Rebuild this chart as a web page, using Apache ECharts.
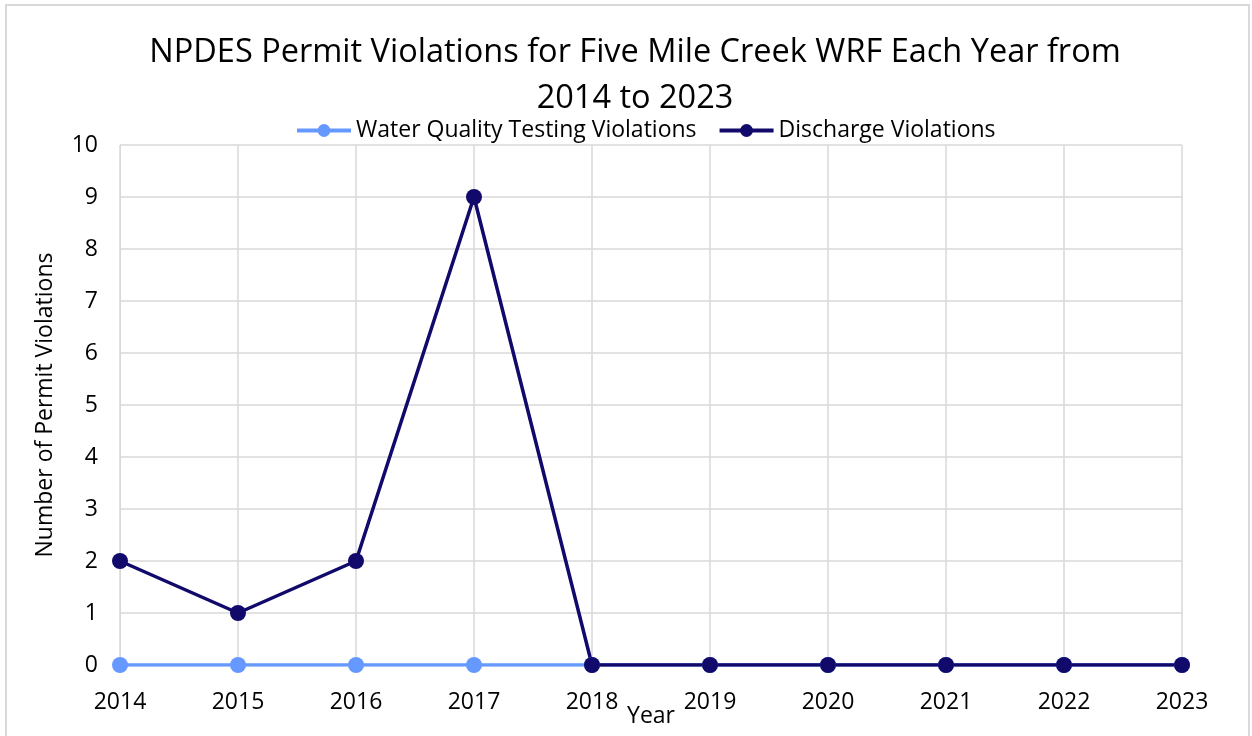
<!DOCTYPE html>
<html>
<head>
<meta charset="utf-8">
<script src="https://cdn.jsdelivr.net/npm/echarts@6/dist/echarts.min.js"></script>
<style>
  html, body { margin: 0; padding: 0; background: #fff; }
  #chart { width: 1252px; height: 736px; }
</style>
</head>
<body>
<div id="chart"></div>
<script>
// 年份与两条数据
const years = ['2014', '2015', '2016', '2017', '2018', '2019', '2020', '2021', '2022', '2023']
const waterQuality = [0, 0, 0, 0, 0, 0, 0, 0, 0, 0]
const discharge = [2, 1, 2, 9, 0, 0, 0, 0, 0, 0]

const font = '"Open Sans"'
const chart = echarts.init(document.getElementById('chart'))
chart.setOption({
  textStyle: { fontFamily: font },
  graphic: [{
    type: 'rect',
    shape: { x: 6, y: 5, width: 1243, height: 740 },
    style: { fill: 'none', stroke: '#d9d9d9', lineWidth: 2 },
    silent: true
  }],
  title: {
    text: 'NPDES Permit Violations for Five Mile Creek WRF Each Year from\n2014 to 2023',
    left: 630,
    textAlign: 'center',
    top: 25,
    textStyle: { fontSize: 32.5, fontWeight: 'normal', color: '#000', lineHeight: 46, fontFamily: font }
  },
  legend: {
    top: 114,
    left: 290,
    itemWidth: 54,
    itemHeight: 16,
    itemGap: 21,
    lineStyle: { width: 4 },
    textStyle: { fontSize: 23, color: '#000', fontFamily: font },
    data: ['Water Quality Testing Violations', 'Discharge Violations']
  },
  grid: { left: 120, right: 70, top: 145, bottom: 71, outerBoundsMode: 'none', containLabel: false },
  xAxis: {
    type: 'category',
    data: years,
    boundaryGap: false,
    name: 'Year',
    nameLocation: 'middle',
    nameGap: 40,
    nameMoveOverlap: false,
    nameTextStyle: { fontSize: 23, color: '#000', fontFamily: font },
    axisTick: { show: false },
    axisLine: { lineStyle: { color: '#d9d9d9' } },
    axisLabel: { fontSize: 23, color: '#000', margin: 26, fontFamily: font },
    splitLine: { show: true, lineStyle: { color: '#d9d9d9', width: 1.5 } }
  },
  yAxis: {
    type: 'value',
    min: 0,
    max: 10,
    interval: 1,
    name: 'Number of Permit Violations',
    nameLocation: 'middle',
    nameGap: 63,
    nameTextStyle: { fontSize: 23, color: '#000', fontFamily: font },
    axisLine: { show: true, lineStyle: { color: '#d9d9d9' } },
    axisLabel: { fontSize: 23, color: '#000', margin: 22, fontFamily: font },
    splitLine: { lineStyle: { color: '#d9d9d9', width: 1.5 } }
  },
  series: [
    {
      name: 'Water Quality Testing Violations',
      type: 'line',
      data: waterQuality,
      symbol: 'circle',
      symbolSize: 16,
      lineStyle: { color: '#6699ff', width: 3.5 },
      itemStyle: { color: '#6699ff' }
    },
    {
      name: 'Discharge Violations',
      type: 'line',
      data: discharge,
      symbol: 'circle',
      symbolSize: 16,
      lineStyle: { color: '#110a6b', width: 3.5 },
      itemStyle: { color: '#110a6b' }
    }
  ]
})
</script>
</body>
</html>
